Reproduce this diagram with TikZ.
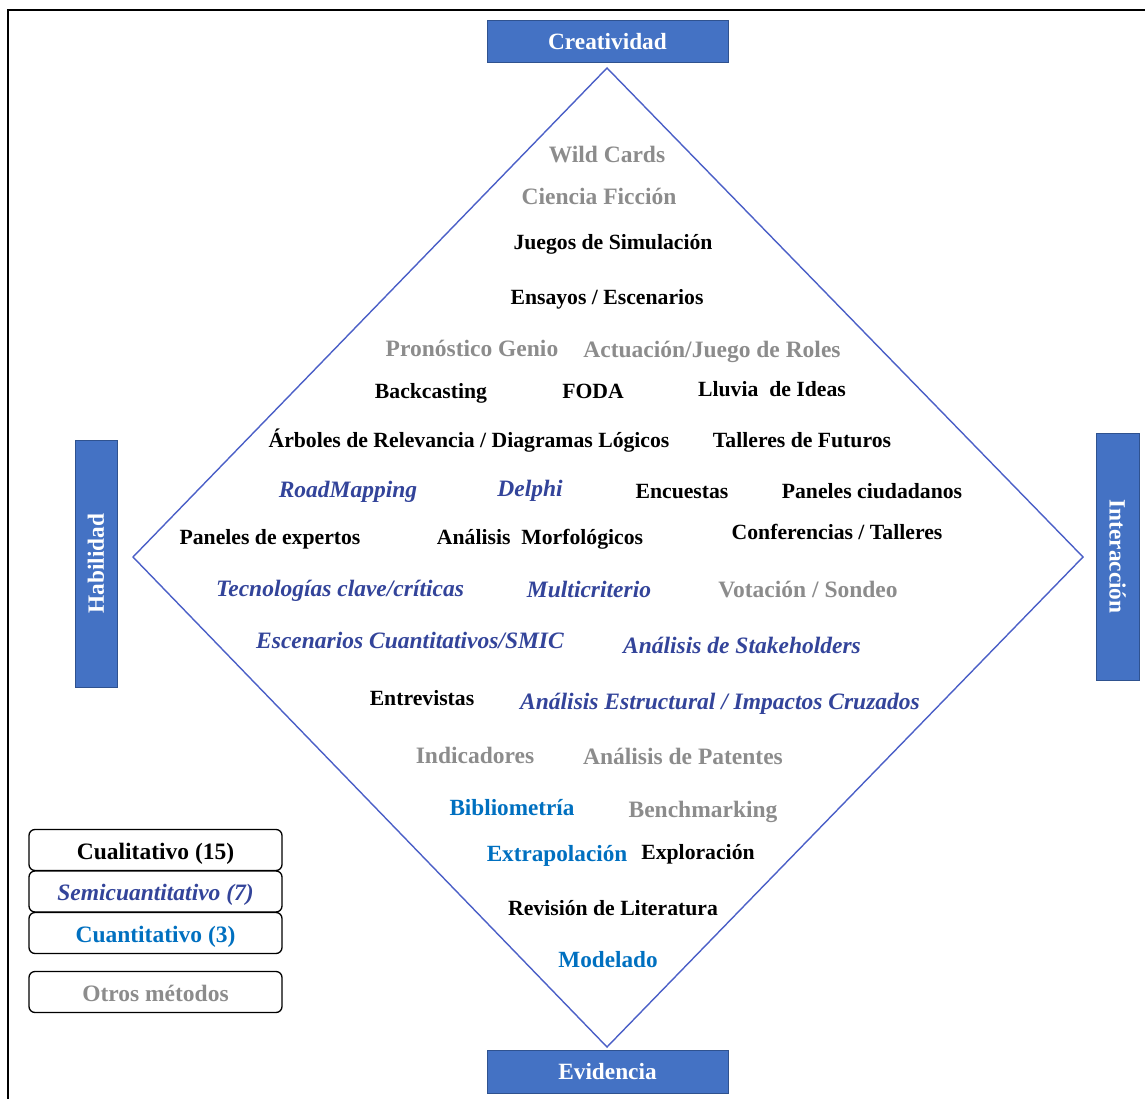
\documentclass[tikz,border=0pt]{standalone}
\usepackage{fontspec}
\setmainfont{Liberation Serif}
\definecolor{axisfill}{HTML}{4472C4}
\definecolor{axisedge}{HTML}{2F528F}
\definecolor{diamondline}{HTML}{4B5FC7}
\definecolor{semicol}{HTML}{33449A}
\definecolor{quantcol}{HTML}{0070C0}
\definecolor{othercol}{HTML}{8C8C8C}
\tikzset{
  axisbox/.style={draw=axisedge, line width=1pt, fill=axisfill, text=white,
    font=\bfseries\fontsize{23.3}{26}\selectfont, inner sep=0pt},
  qual/.style={font=\bfseries\fontsize{21.7}{24}\selectfont, text=black, inner sep=0pt, anchor=base},
  semi/.style={font=\bfseries\itshape\fontsize{23.5}{26}\selectfont, text=semicol, inner sep=0pt, anchor=base},
  quant/.style={font=\bfseries\fontsize{23.2}{26}\selectfont, text=quantcol, inner sep=0pt, anchor=base},
  other/.style={font=\bfseries\fontsize{23.5}{26}\selectfont, text=othercol, inner sep=0pt, anchor=base},
  legendbox/.style={draw=black, line width=1.3pt, rounded corners=6pt, fill=white,
    minimum width=253pt, minimum height=41pt, inner sep=0pt, text height=18pt, text depth=0pt},
}
\begin{document}
\begin{tikzpicture}[x=1pt, y=-1pt]
\useasboundingbox (0,0) rectangle (1145,1099);

% outer frame (top and left edges)
\draw[line width=1.5pt] (8,1099) -- (8,10) -- (1145,10);

% the four corners of the diamond
\coordinate (dT) at (607,68);
\coordinate (dR) at (1083,557);
\coordinate (dB) at (607,1047);
\coordinate (dL) at (133,557);
\draw[diamondline, line width=1.4pt, line join=miter] (dT) -- (dR) -- (dB) -- (dL) -- cycle;

% axis labels
\node[axisbox, minimum width=241pt, minimum height=42pt] (crea) at (607.5,41.5) {Creatividad};
\node[axisbox, minimum width=241pt, minimum height=43pt] (evid) at (607.5,1071.5) {Evidencia};
\node[axisbox, minimum width=247pt, minimum height=42pt, rotate=90] (habi) at (96,563.5) {Habilidad};
\node[axisbox, minimum width=247pt, minimum height=43pt, rotate=-90] (inte) at (1117.5,556.5) {Interacción};

% methods
\node[other] (m1)  at (607,163) {Wild Cards};
\node[other] (m2)  at (599,205) {Ciencia Ficción};
\node[qual]  (m3)  at (613,250) {Juegos de Simulación};
\node[qual]  (m4)  at (607,304) {Ensayos / Escenarios};
\node[other] (m5)  at (472,356) {Pronóstico Genio};
\node[other] (m6)  at (712,357) {Actuación/Juego de Roles};
\node[qual]  (m7)  at (431,398) {Backcasting};
\node[qual]  (m8)  at (593,398) {FODA};
\node[qual]  (m9)  at (772,396) {Lluvia\ \ de Ideas};
\node[qual]  (m10) at (469,447) {Árboles de Relevancia / Diagramas Lógicos};
\node[qual]  (m11) at (802,447) {Talleres de Futuros};
\node[semi]  (m12) at (348,497) {RoadMapping};
\node[semi]  (m13) at (530,496) {Delphi};
\node[qual]  (m14) at (682,498) {Encuestas};
\node[qual]  (m15) at (872,498) {Paneles ciudadanos};
\node[qual]  (m16) at (270,544) {Paneles de expertos};
\node[qual]  (m17) at (540,544) {Análisis\ \ Morfológicos};
\node[qual]  (m18) at (837,539) {Conferencias / Talleres};
\node[semi]  (m19) at (340,596) {Tecnologías clave/críticas};
\node[semi]  (m20) at (589,597) {Multicriterio};
\node[other] (m21) at (808,597) {Votación / Sondeo};
\node[semi]  (m22) at (410,648) {Escenarios Cuantitativos/SMIC};
\node[semi]  (m23) at (742,653) {Análisis de Stakeholders};
\node[qual]  (m24) at (422,705) {Entrevistas};
\node[semi]  (m25) at (720,709) {Análisis Estructural / Impactos Cruzados};
\node[other] (m26) at (475,763) {Indicadores};
\node[other] (m27) at (683,764) {Análisis de Patentes};
\node[quant] (m28) at (512,815) {Bibliometría};
\node[other] (m29) at (703,817) {Benchmarking};
\node[quant] (m30) at (557,861) {Extrapolación};
\node[qual]  (m31) at (698,859) {Exploración};
\node[qual]  (m32) at (613,915) {Revisión de Literatura};
\node[quant] (m33) at (608,967) {Modelado};

% legend
\node[legendbox, font=\bfseries\fontsize{23.5}{26}\selectfont, text=black] (lg1) at (155.5,850) {Cualitativo (15)};
\node[legendbox, font=\bfseries\itshape\fontsize{23.5}{26}\selectfont, text=semicol] (lg2) at (155.5,891.5) {Semicuantitativo (7)};
\node[legendbox, font=\bfseries\fontsize{23.5}{26}\selectfont, text=quantcol] (lg3) at (155.5,933) {Cuantitativo (3)};
\node[legendbox, font=\bfseries\fontsize{23.5}{26}\selectfont, text=othercol] (lg4) at (155.5,992) {Otros métodos};
\end{tikzpicture}
\end{document}
